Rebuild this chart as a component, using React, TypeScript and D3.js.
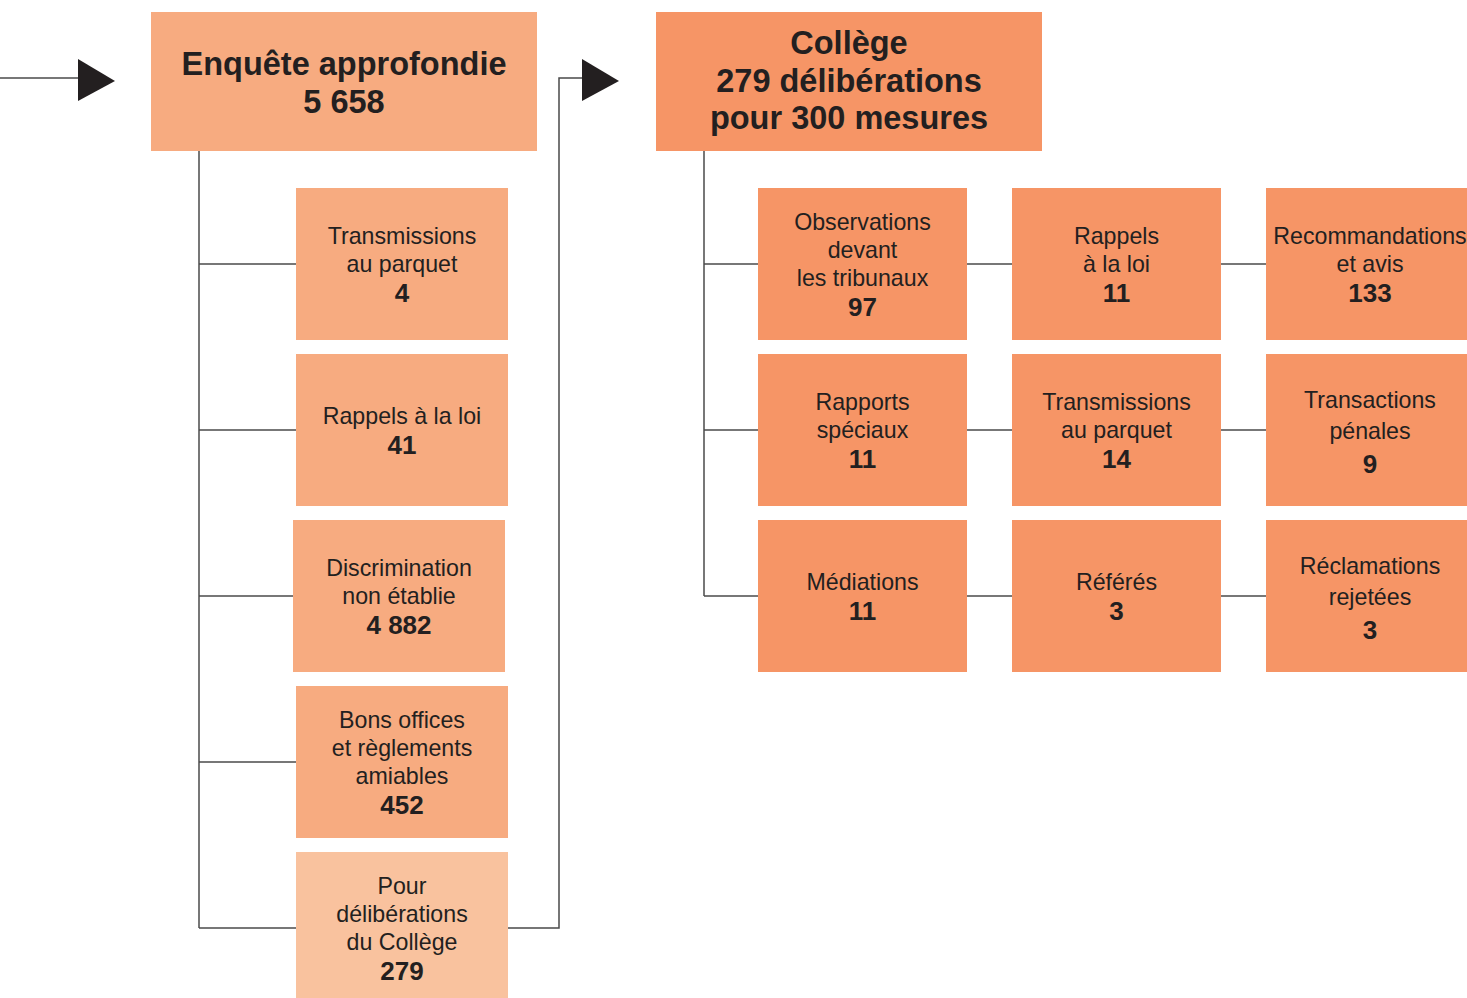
import React from "react";
import * as d3 from "d3";

const W = 1467;
const H = 998;

const enqueteTitle = ["Enquête approfondie", "5 658"];
const collegeTitle = ["Collège", "279 délibérations", "pour 300 mesures"];

const leftLabels: string[][] = [
  ["Transmissions", "au parquet"],
  ["Rappels à la loi"],
  ["Discrimination", "non établie"],
  ["Bons offices", "et règlements", "amiables"],
  ["Pour", "délibérations", "du Collège"],
];
const leftValues = ["4", "41", "4 882", "452", "279"];

const collegeLabels: string[][] = [
  ["Observations", "devant", "les tribunaux"],
  ["Rappels", "à la loi"],
  ["Recommandations", "et avis"],
  ["Rapports", "spéciaux"],
  ["Transmissions", "au parquet"],
  ["Transactions", "pénales"],
  ["Médiations"],
  ["Référés"],
  ["Réclamations", "rejetées"],
];
const collegeValues = ["97", "11", "133", "11", "14", "9", "11", "3", "3"];

const C_LEFT = "#F7AB80";
const C_LAST = "#F9C29E";
const C_COL = "#F69566";
const LINE = "#4a4a4a";
const TXT = "#231F20";
const FONT = "'Liberation Sans', Arial, Helvetica, sans-serif";

const rowScale = d3
  .scaleBand<number>()
  .domain(d3.range(5))
  .range([188, 188 + 4 * 166 + 152])
  .paddingInner(14 / 166)
  .paddingOuter(0);
const bw = rowScale.bandwidth();

const colScale = d3
  .scaleBand<number>()
  .domain(d3.range(3))
  .range([758, 758 + 2 * 254 + 209])
  .paddingInner(45 / 254)
  .paddingOuter(0);

function BoxText({
  cx,
  cy,
  lines,
  value,
  lh = 28,
}: {
  cx: number;
  cy: number;
  lines: string[];
  value: string;
  lh?: number;
}) {
  const n = lines.length + 1;
  const top = cy - ((n - 1) * lh) / 2;
  return (
    <g>
      {lines.map((l, i) => (
        <text
          key={i}
          x={cx}
          y={top + i * lh}
          dy="0.35em"
          textAnchor="middle"
          fontFamily={FONT}
          fontSize={23.2}
          fill={TXT}
        >
          {l}
        </text>
      ))}
      <text
        x={cx}
        y={top + (n - 1) * lh + 1}
        dy="0.35em"
        textAnchor="middle"
        fontFamily={FONT}
        fontSize={26}
        fontWeight="bold"
        fill={TXT}
      >
        {value}
      </text>
    </g>
  );
}

export default function App() {
  const leftX = 296;
  const leftW = 212;
  const colW = colScale.bandwidth();
  const trunkL = 199;
  const trunkC = 704;

  const rowY = (i: number) => rowScale(i)!;
  const rowC = (i: number) => rowY(i) + bw / 2;

  const tri = d3.line()([
    [0, -21],
    [0, 21],
    [37, 1],
  ]);

  return (
    <svg
      width={W}
      height={H}
      style={{ position: "absolute", left: 0, top: 0, background: "#fff" }}
    >
      {/* entry arrow */}
      <line x1={0} y1={78} x2={80} y2={78} stroke={LINE} strokeWidth={1.5} />
      <path d={tri!} transform="translate(78,80)" fill={TXT} />

      {/* Enquête box */}
      <rect x={151} y={12} width={386} height={139} fill={C_LEFT} />
      {enqueteTitle.map((t, i) => (
        <text
          key={i}
          x={344}
          y={64 + i * 38}
          dy="0.35em"
          textAnchor="middle"
          fontFamily={FONT}
          fontSize={32.5}
          fontWeight="bold"
          fill={TXT}
        >
          {t}
        </text>
      ))}

      {/* left trunk */}
      <line x1={trunkL} y1={151} x2={trunkL} y2={rowC(4)} stroke={LINE} strokeWidth={1.5} />
      {leftLabels.map((_, i) => (
        <line
          key={i}
          x1={trunkL}
          y1={rowC(i)}
          x2={leftX}
          y2={rowC(i)}
          stroke={LINE}
          strokeWidth={1.5}
        />
      ))}

      {/* connector to Collège */}
      <polyline
        points={`${leftX + leftW},${rowC(4)} 559,${rowC(4)} 559,78 584,78`}
        fill="none"
        stroke={LINE}
        strokeWidth={1.5}
      />
      <path d={tri!} transform="translate(582,80)" fill={TXT} />

      {/* left boxes */}
      {leftLabels.map((lines, i) => {
        const x = i === 2 ? leftX - 3 : leftX;
        return (
          <g key={i}>
            <rect x={x} y={rowY(i)} width={leftW} height={bw} fill={i === 4 ? C_LAST : C_LEFT} />
            <BoxText cx={x + leftW / 2} cy={rowC(i)} lines={lines} value={leftValues[i]} />
          </g>
        );
      })}

      {/* Collège box */}
      <rect x={656} y={12} width={386} height={139} fill={C_COL} />
      {collegeTitle.map((t, i) => (
        <text
          key={i}
          x={849}
          y={43 + i * 37.5}
          dy="0.35em"
          textAnchor="middle"
          fontFamily={FONT}
          fontSize={32.5}
          fontWeight="bold"
          fill={TXT}
        >
          {t}
        </text>
      ))}

      {/* college trunk */}
      <line x1={trunkC} y1={151} x2={trunkC} y2={rowC(2)} stroke={LINE} strokeWidth={1.5} />
      {[0, 1, 2].map((r) => (
        <line
          key={r}
          x1={trunkC}
          y1={rowC(r)}
          x2={colScale(2)!}
          y2={rowC(r)}
          stroke={LINE}
          strokeWidth={1.5}
        />
      ))}

      {collegeLabels.map((lines, k) => {
        const r = Math.floor(k / 3);
        const c = k % 3;
        const x = colScale(c)!;
        const w = c === 2 ? W - x : colW;
        const wide = lines[0] === "Transactions" || lines[0] === "Réclamations";
        return (
          <g key={k}>
            <rect x={x} y={rowY(r)} width={w} height={bw} fill={C_COL} />
            <BoxText
              cx={x + (c === 2 ? 104 : colW / 2)}
              cy={rowC(r) + (wide ? 1 : 0)}
              lines={lines}
              value={collegeValues[k]}
              lh={wide ? 31.5 : 28}
            />
          </g>
        );
      })}
    </svg>
  );
}
